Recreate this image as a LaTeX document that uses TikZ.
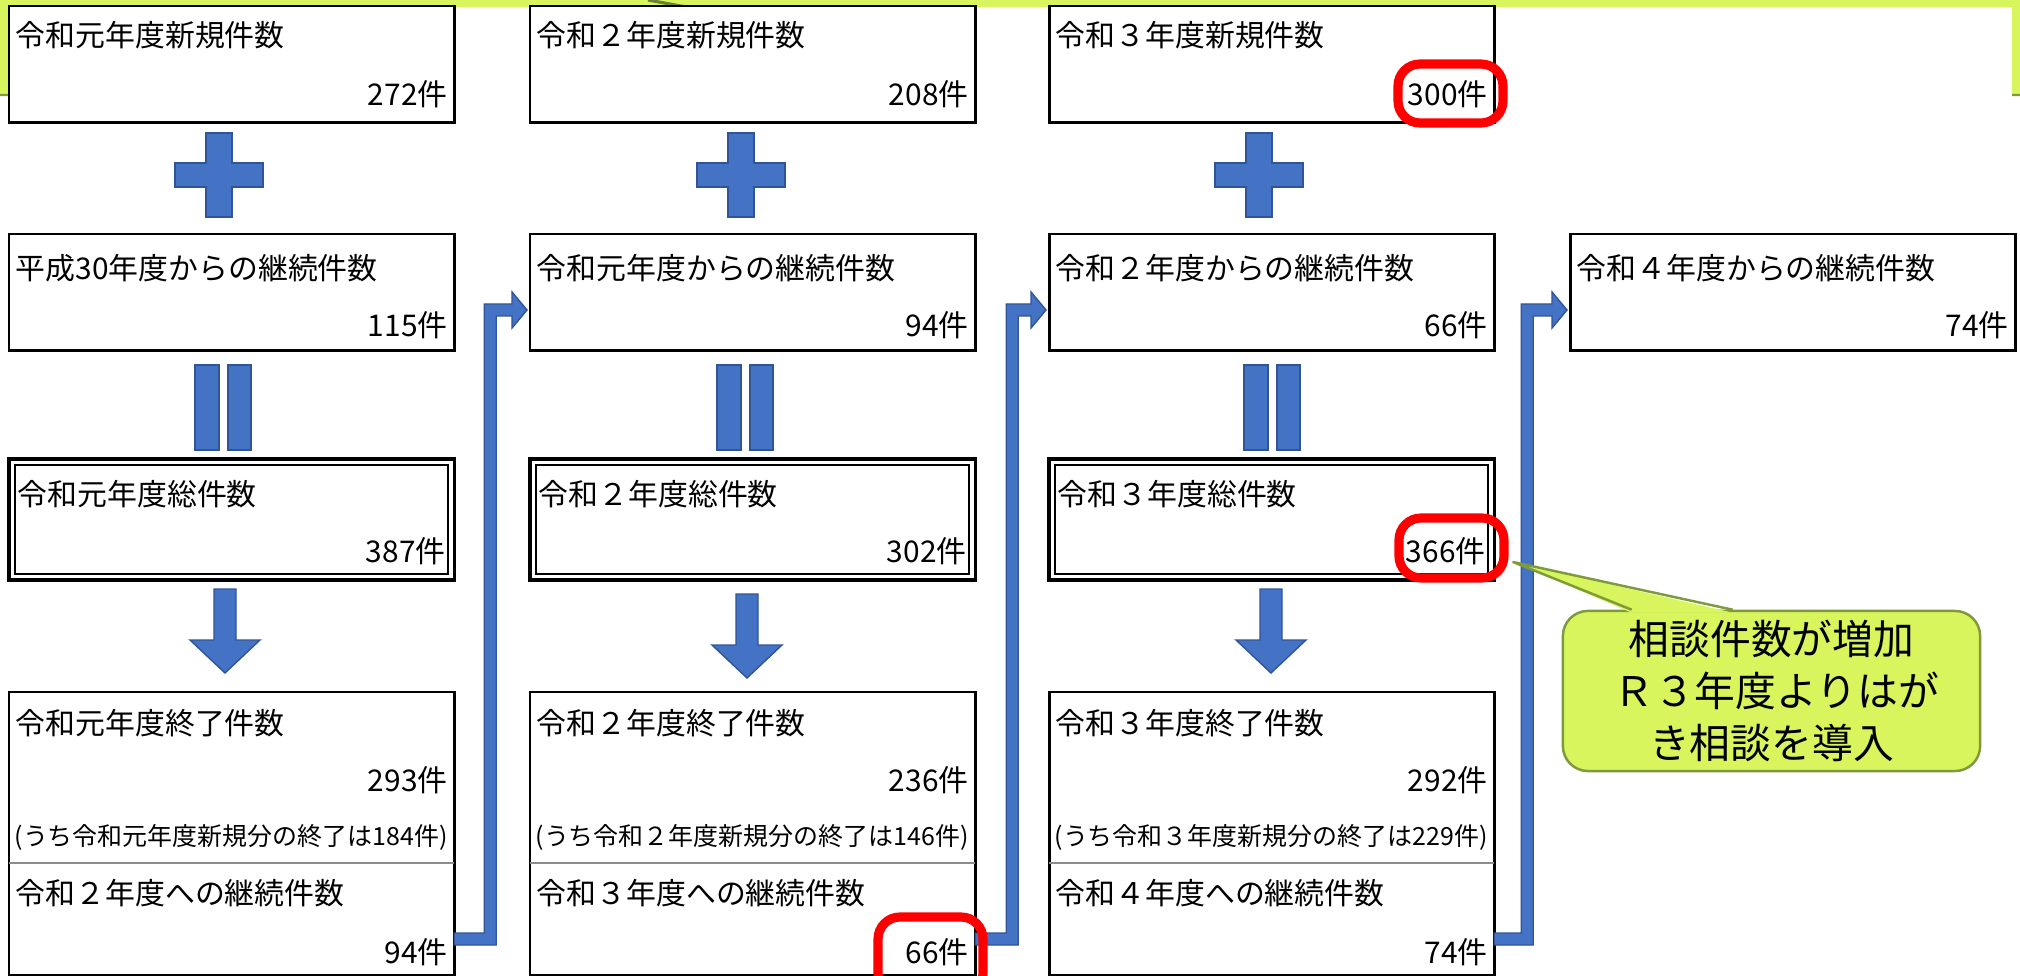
\documentclass[tikz,border=0pt]{standalone}
\usepackage{fontspec}
\setmainfont{Noto Sans CJK JP}
\usetikzlibrary{calc}
\definecolor{blueA}{HTML}{4472C4}
\definecolor{blueB}{HTML}{2F5597}
\definecolor{limeA}{HTML}{D8F55E}
\definecolor{oliveA}{HTML}{7E9A3C}
\definecolor{grayA}{HTML}{8C8C8C}
\tikzset{
  box/.style={draw=black, line width=0.85pt, fill=white, minimum width=4.45cm,
    anchor=north west, inner sep=0pt, outer sep=0pt},
  ttl/.style={anchor=west, inner sep=0pt, font=\fontsize{8.5pt}{10pt}\selectfont},
  num/.style={anchor=east, inner sep=0pt, font=\fontsize{8.5pt}{10pt}\selectfont},
  small/.style={anchor=east, inner sep=0pt, font=\fontsize{7.1pt}{8.5pt}\selectfont},
  divider/.style={draw=grayA, line width=0.8pt},
  bluefill/.style={fill=blueA, draw=blueB, line width=0.4pt},
  ring/.style={draw=red, line width=2.6pt, rounded corners=0.22cm},
  notebox/.style={draw=oliveA, fill=limeA, line width=0.7pt, rounded corners=0.25cm,
    minimum width=4.17cm, minimum height=1.6cm, align=center, inner sep=0pt,
    font=\fontsize{11.6pt}{14.8pt}\selectfont},
  plusop/.pic={\filldraw[bluefill] (-13,-42) -- (13,-42) -- (13,-12) -- (44,-12) -- (44,12)
    -- (13,12) -- (13,42) -- (-13,42) -- (-13,12) -- (-44,12) -- (-44,-12) -- (-13,-12) -- cycle;},
  eqop/.pic={\filldraw[bluefill] (-28,-42.5) rectangle (-4,42.5);
    \filldraw[bluefill] (5,-42.5) rectangle (28,42.5);},
  downop/.pic={\filldraw[bluefill] (-11,0) -- (11,0) -- (11,51) -- (35,51) -- (0,84)
    -- (-35,51) -- (-11,51) -- cycle;}
}
\begin{document}
\begin{tikzpicture}[x=0.01cm,y=-0.01cm]
\useasboundingbox (0,0) rectangle (2020,976);
\clip (0,0) rectangle (2020,976);
% background callout (cut off at top)
\filldraw[fill=limeA, draw=oliveA, line width=0.7pt, rounded corners=0.3cm] (-40,-300) rectangle (2060,95);
\fill[white] (8,7) rectangle (2012,1000);
\draw[oliveA!85!black, line width=0.9pt] (648,0) -- (686,7);

% row 1
\node[box, minimum height=1.16cm] (new1) at (9,6) {};
\node[box, minimum height=1.16cm] (new2) at (530,6) {};
\node[box, minimum height=1.16cm] (new3) at (1049,6) {};
% row 2
\node[box, minimum height=1.16cm] (cont1) at (9,234) {};
\node[box, minimum height=1.16cm] (cont2) at (530,234) {};
\node[box, minimum height=1.16cm] (cont3) at (1049,234) {};
\node[box, minimum height=1.16cm] (cont4) at (1570,234) {};
% row 3
\node[box, minimum height=1.21cm, line width=1pt] (tot1) at (9,459) {};
\node[box, minimum height=1.21cm, line width=1pt] (tot2) at (530,459) {};
\node[box, minimum height=1.21cm, line width=1pt] (tot3) at (1049,459) {};
\foreach \t in {tot1,tot2,tot3}{
  \draw[line width=0.5pt] ($(\t.north west)+(6,6)$) rectangle ($(\t.south east)+(-6,-6)$);
}
% row 4
\node[box, minimum height=2.83cm] (end1) at (9,692) {};
\node[box, minimum height=2.83cm] (end2) at (530,692) {};
\node[box, minimum height=2.83cm] (end3) at (1049,692) {};

% texts row 1
\node[ttl] (new1a) at ($(new1.north west)+(6,29)$) {令和元年度新規件数};
\node[num] (new1b) at ($(new1.north east)+(-6,88)$) {272件};
\node[ttl] (new2a) at ($(new2.north west)+(6,29)$) {令和２年度新規件数};
\node[num] (new2b) at ($(new2.north east)+(-6,88)$) {208件};
\node[ttl] (new3a) at ($(new3.north west)+(6,29)$) {令和３年度新規件数};
\node[num] (new3b) at ($(new3.north east)+(-6,88)$) {300件};
% texts row 2
\node[ttl] (cont1a) at ($(cont1.north west)+(6,34)$) {平成30年度からの継続件数};
\node[num] (cont1b) at ($(cont1.north east)+(-6,91)$) {115件};
\node[ttl] (cont2a) at ($(cont2.north west)+(6,34)$) {令和元年度からの継続件数};
\node[num] (cont2b) at ($(cont2.north east)+(-6,91)$) {94件};
\node[ttl] (cont3a) at ($(cont3.north west)+(6,34)$) {令和２年度からの継続件数};
\node[num] (cont3b) at ($(cont3.north east)+(-6,91)$) {66件};
\node[ttl] (cont4a) at ($(cont4.north west)+(6,34)$) {令和４年度からの継続件数};
\node[num] (cont4b) at ($(cont4.north east)+(-6,91)$) {74件};
% texts row 3
\node[ttl] (tot1a) at ($(tot1.north west)+(8,35)$) {令和元年度総件数};
\node[num] (tot1b) at ($(tot1.north east)+(-8,92)$) {387件};
\node[ttl] (tot2a) at ($(tot2.north west)+(8,35)$) {令和２年度総件数};
\node[num] (tot2b) at ($(tot2.north east)+(-8,92)$) {302件};
\node[ttl] (tot3a) at ($(tot3.north west)+(8,35)$) {令和３年度総件数};
\node[num] (tot3b) at ($(tot3.north east)+(-8,92)$) {366件};
% texts row 4
\node[ttl] (end1a) at ($(end1.north west)+(6,31)$) {令和元年度終了件数};
\node[num] (end1b) at ($(end1.north east)+(-6,88)$) {293件};
\node[small] (end1c) at ($(end1.north east)+(-6,145)$) {(うち令和元年度新規分の終了は184件)};
\draw[divider] ($(end1.north west)+(0,171)$) -- ($(end1.north east)+(0,171)$);
\node[ttl] (end1d) at ($(end1.north west)+(6,201)$) {令和２年度への継続件数};
\node[num] (end1e) at ($(end1.north east)+(-6,260)$) {94件};

\node[ttl] (end2a) at ($(end2.north west)+(6,31)$) {令和２年度終了件数};
\node[num] (end2b) at ($(end2.north east)+(-6,88)$) {236件};
\node[small] (end2c) at ($(end2.north east)+(-6,145)$) {(うち令和２年度新規分の終了は146件)};
\draw[divider] ($(end2.north west)+(0,171)$) -- ($(end2.north east)+(0,171)$);
\node[ttl] (end2d) at ($(end2.north west)+(6,201)$) {令和３年度への継続件数};
\node[num] (end2e) at ($(end2.north east)+(-6,260)$) {66件};

\node[ttl] (end3a) at ($(end3.north west)+(6,31)$) {令和３年度終了件数};
\node[num] (end3b) at ($(end3.north east)+(-6,88)$) {292件};
\node[small] (end3c) at ($(end3.north east)+(-6,145)$) {(うち令和３年度新規分の終了は229件)};
\draw[divider] ($(end3.north west)+(0,171)$) -- ($(end3.north east)+(0,171)$);
\node[ttl] (end3d) at ($(end3.north west)+(6,201)$) {令和４年度への継続件数};
\node[num] (end3e) at ($(end3.north east)+(-6,260)$) {74件};

% operators
\pic at (219,175) {plusop};
\pic at (741,175) {plusop};
\pic at (1259,175) {plusop};
\pic at (223,407.5) {eqop};
\pic at (745,407.5) {eqop};
\pic at (1272,407.5) {eqop};
\pic at (225,589) {downop};
\pic at (747,594) {downop};
\pic at (1271,589) {downop};

% bent block connectors
\foreach \a/\b/\o/\i in {end1/cont2/36/1, end2/cont3/37/2, end3/cont4/33/3}{
  \coordinate (s\i) at ($(\a.north east)+(0,247)$);
  \coordinate (t\i) at ($(\b.north west)+(-3,76)$);
  \coordinate (v\i) at ($(s\i)+(\o,0)$);
  \coordinate (c\i) at (v\i|-t\i);
  \filldraw[bluefill] ($(s\i)+(0,-6)$) -- ($(v\i)+(-6,-6)$) -- ($(c\i)+(-6,-6)$)
    -- ($(t\i)+(-15,-6)$) -- ($(t\i)+(-15,-18)$) -- (t\i) -- ($(t\i)+(-15,18)$)
    -- ($(t\i)+(-15,6)$) -- ($(c\i)+(6,6)$) -- ($(v\i)+(6,6)$) -- ($(s\i)+(0,6)$) -- cycle;
}

% red highlight rings
\draw[ring] (1398,64) rectangle (1503,123);
\draw[ring] (1399,518) rectangle (1504,578);
\draw[ring] (878,917) rectangle (983,995);

% callout note
\node[notebox] (note) at (1771.5,691) {相談件数が増加\\\ Ｒ３年度よりはが\\き相談を導入};
\coordinate (tipN) at ($(tot3.south east)+(19,-18)$);
\fill[limeA] ($(note.north west)+(70,3)$) -- (tipN) -- ($(note.north west)+(171,3)$) -- cycle;
\draw[oliveA, line width=0.7pt, line join=round] ($(note.north west)+(70,0)$) -- (tipN) -- ($(note.north west)+(171,0)$);
\end{tikzpicture}
\end{document}
